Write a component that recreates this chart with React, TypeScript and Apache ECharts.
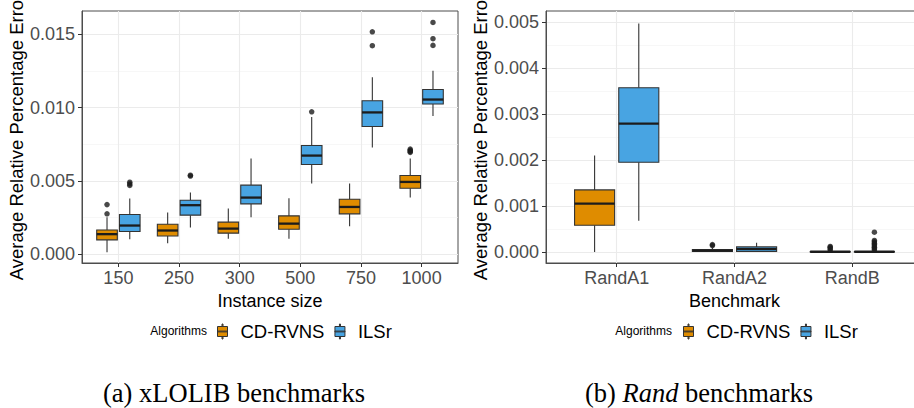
import React, { useEffect, useRef } from 'react';
import * as echarts from 'echarts';

// ---------- data ----------
const xlolibSizes = ['150', '250', '300', '500', '750', '1000'];
const randBenchmarks = ['RandA1', 'RandA2', 'RandB'];
const algorithms = ['CD-RVNS', 'ILSr'];

// [lower whisker, Q1, median, Q3, upper whisker]
const xlolibCDRVNS = [
  [0.00012, 0.00096, 0.00135, 0.00164, 0.00251],
  [0.00073, 0.00123, 0.0016, 0.00203, 0.00283],
  [0.00103, 0.00142, 0.00173, 0.00217, 0.0031],
  [0.00103, 0.00169, 0.00207, 0.0026, 0.00381],
  [0.00189, 0.00274, 0.00321, 0.00374, 0.00481],
  [0.00385, 0.00449, 0.00492, 0.00536, 0.00652],
];
const xlolibILSr = [
  [0.001, 0.00153, 0.00194, 0.00269, 0.00378],
  [0.0018, 0.00265, 0.00333, 0.00367, 0.00419],
  [0.00251, 0.00342, 0.00385, 0.0047, 0.00652],
  [0.00481, 0.00611, 0.00672, 0.00741, 0.00935],
  [0.00727, 0.00871, 0.00967, 0.01047, 0.01208],
  [0.00942, 0.01024, 0.01055, 0.01124, 0.01252],
];
// [category index, value]
const xlolibCDRVNSOutliers = [
  [0, 0.00337], [0, 0.00274],
  [5, 0.00716], [5, 0.00708], [5, 0.007], [5, 0.00694],
];
const xlolibILSrOutliers = [
  [0, 0.0049], [0, 0.00478], [0, 0.00468],
  [1, 0.00538], [1, 0.00532],
  [3, 0.00971],
  [4, 0.01518], [4, 0.01423],
  [5, 0.01582], [5, 0.01471], [5, 0.01425],
];

const randCDRVNS = [
  [0, 0.00058, 0.00105, 0.00135, 0.0021],
  [0, 0.00001, 0.00003, 0.00005, 0.00009],
  [0, 0, 0.000005, 0.00001, 0.00002],
];
const randILSr = [
  [0.00068, 0.00195, 0.00279, 0.00357, 0.00497],
  [0, 0.00001, 0.00006, 0.00011, 0.0002],
  [0, 0, 0.000005, 0.00001, 0.00002],
];
const randCDRVNSOutliers = [
  [1, 0.00016], [1, 0.00014],
  [2, 0.00012], [2, 0.0001], [2, 0.00007], [2, 0.00004],
];
const randILSrOutliers = [
  [2, 0.00043], [2, 0.00025], [2, 0.00022], [2, 0.00019], [2, 0.00016],
  [2, 0.00013], [2, 0.0001], [2, 0.00007], [2, 0.00004],
];

const xlolibMajorTicks = [0, 0.005, 0.01, 0.015];
const xlolibMinorTicks = [0.0025, 0.0075, 0.0125];
const randMajorTicks = [0, 0.001, 0.002, 0.003, 0.004, 0.005];
const randMinorTicks = [0.0005, 0.0015, 0.0025, 0.0035, 0.0045];

// ---------- styling ----------
const ORANGE = '#DF8C00';
const BLUE = '#48A4E2';
const FONT = '"Liberation Sans", Arial, sans-serif';
const SERIF = '"Liberation Serif", serif';
const DODGE = 0.1875;
const HALF_W = 0.17;

const boxIcon =
  'path://M4.5,0H5.5V2.5H4.5Z M0,2.5H10V12.5H0Z M0,7.1H10V7.9H0Z M4.5,12.5H5.5V15H4.5Z';

const renderBox = (params: any, api: any) => {
  const x = api.value(0);
  const lo = api.value(1);
  const q1 = api.value(2);
  const med = api.value(3);
  const q3 = api.value(4);
  const hi = api.value(5);
  const half = api.size([HALF_W, 0])[0];
  const pLo = api.coord([x, lo]);
  const pQ1 = api.coord([x, q1]);
  const pMed = api.coord([x, med]);
  const pQ3 = api.coord([x, q3]);
  const pHi = api.coord([x, hi]);
  const color = api.visual('color');
  return {
    type: 'group',
    children: [
      { type: 'line', shape: { x1: pHi[0], y1: pHi[1], x2: pQ3[0], y2: pQ3[1] }, style: { stroke: '#333', lineWidth: 1.1 } },
      { type: 'line', shape: { x1: pQ1[0], y1: pQ1[1], x2: pLo[0], y2: pLo[1] }, style: { stroke: '#333', lineWidth: 1.1 } },
      {
        type: 'rect',
        shape: { x: pQ3[0] - half, y: pQ3[1], width: 2 * half, height: Math.max(pQ1[1] - pQ3[1], 0.5) },
        style: { fill: color, stroke: '#333', lineWidth: 1.1 },
      },
      { type: 'line', shape: { x1: pMed[0] - half, y1: pMed[1], x2: pMed[0] + half, y2: pMed[1] }, style: { stroke: '#1c1c1c', lineWidth: 2.3 } },
    ],
  };
};

const boxSeries = (name: string, stats: number[][], offset: number, color: string, axisIdx: number, yIdx: number) => ({
  type: 'custom',
  name,
  xAxisIndex: axisIdx,
  yAxisIndex: yIdx,
  itemStyle: { color, borderColor: '#333', borderWidth: 1 },
  renderItem: renderBox,
  encode: { x: 0, y: [1, 2, 3, 4, 5] },
  data: stats.map((s, i) => [i + 1 + offset, ...s]),
  z: 3,
  silent: true,
});

const outlierSeries = (name: string, pts: number[][], offset: number, axisIdx: number, yIdx: number) => ({
  type: 'scatter',
  name,
  xAxisIndex: axisIdx,
  yAxisIndex: yIdx,
  symbol: 'circle',
  symbolSize: 5.5,
  itemStyle: { color: '#1c1c1c' },
  data: pts.map(([c, v]) => [c + 1 + offset, v]),
  z: 4,
  silent: true,
});

const xAxisFor = (gridIndex: number, cats: string[], name: string) => {
  const pos = cats.map((_, i) => i + 1);
  return {
    type: 'value',
    gridIndex,
    min: 0.4,
    max: cats.length + 0.6,
    name,
    nameLocation: 'middle',
    nameGap: 24,
    nameTextStyle: { fontSize: 18, color: '#000', fontFamily: FONT },
    axisLine: { show: true, onZero: false, lineStyle: { color: '#4d4d4d', width: 1 } },
    axisTick: { show: true, customValues: pos, length: 4, lineStyle: { color: '#333' } },
    axisLabel: {
      customValues: pos,
      formatter: (v: number) => cats[Math.round(v) - 1] ?? '',
      fontSize: 18,
      color: '#4D4D4D',
      fontFamily: FONT,
      margin: 6,
    },
    splitLine: { show: true, lineStyle: { color: '#EBEBEB', width: 1.1 } },
  };
};

const yAxisFor = (gridIndex: number, min: number, max: number, major: number[]) => ({
  type: 'value',
  gridIndex,
  min,
  max,
  name: 'Average Relative Percentage Error',
  nameLocation: 'middle',
  nameRotate: 90,
  nameGap: 54,
  nameTextStyle: { fontSize: 18.5, color: '#000', fontFamily: FONT },
  axisLine: { show: true, onZero: false, lineStyle: { color: '#4d4d4d', width: 1 } },
  axisTick: { show: true, customValues: major, length: 4, lineStyle: { color: '#333' } },
  axisLabel: {
    customValues: major,
    formatter: (v: number) => v.toFixed(3),
    fontSize: 18,
    color: '#4D4D4D',
    fontFamily: FONT,
    margin: 7,
  },
  splitLine: { show: true, lineStyle: { color: '#EBEBEB', width: 1.1 } },
  z: 1,
});

const yMinorFor = (gridIndex: number, min: number, max: number, minor: number[]) => ({
  type: 'value',
  gridIndex,
  min,
  max,
  axisLine: { show: false, onZero: false },
  axisTick: { show: false, customValues: minor },
  axisLabel: { show: false, customValues: minor },
  splitLine: { show: true, lineStyle: { color: '#F2F2F2', width: 0.6 } },
  z: 0,
});

const legendFor = (left: number) => ({
  data: algorithms,
  left,
  top: 317,
  orient: 'horizontal',
  icon: boxIcon,
  itemWidth: 10,
  itemHeight: 15,
  itemGap: 10,
  itemStyle: { borderColor: '#333', borderWidth: 1 },
  textStyle: { fontSize: 18.5, color: '#000', fontFamily: FONT, padding: [0, 0, 0, 8] },
  selectedMode: false,
});

export default function App() {
  const ref = useRef<HTMLDivElement>(null);
  useEffect(() => {
    if (!ref.current) return;
    const chart = echarts.init(ref.current, undefined, { renderer: 'svg' });
    const xMin = -0.00062, xMax = 0.0166;
    const rMin = -0.00024, rMax = 0.00524;
    chart.setOption({
      animation: false,
      backgroundColor: '#fff',
      textStyle: { fontFamily: FONT },
      grid: [
        { left: 82, top: 11, right: 456, bottom: 145, show: true, borderColor: '#4d4d4d', borderWidth: 1, backgroundColor: 'transparent', containLabel: false, outerBoundsMode: 'none' },
        { left: 546, top: 11, right: -9, bottom: 145, show: true, borderColor: '#4d4d4d', borderWidth: 1, backgroundColor: 'transparent', containLabel: false, outerBoundsMode: 'none' },
      ],
      xAxis: [
        xAxisFor(0, xlolibSizes, 'Instance size'),
        xAxisFor(1, randBenchmarks, 'Benchmark'),
      ],
      yAxis: [
        yAxisFor(0, xMin, xMax, xlolibMajorTicks),
        yMinorFor(0, xMin, xMax, xlolibMinorTicks),
        yAxisFor(1, rMin, rMax, randMajorTicks),
        yMinorFor(1, rMin, rMax, randMinorTicks),
      ],
      legend: [legendFor(212), legendFor(678)],
      graphic: [
        { type: 'text', x: 207, y: 331, style: { text: 'Algorithms', fontSize: 12, fontFamily: FONT, fill: '#000', align: 'right', verticalAlign: 'middle' } },
        { type: 'text', x: 672, y: 331, style: { text: 'Algorithms', fontSize: 12, fontFamily: FONT, fill: '#000', align: 'right', verticalAlign: 'middle' } },
        {
          type: 'text', x: 234, y: 393,
          style: { text: '(a) xLOLIB benchmarks', fontSize: 26.5, lineHeight: 24, fontFamily: SERIF, fill: '#000', align: 'center', verticalAlign: 'middle' },
        },
        {
          type: 'text', x: 699, y: 393,
          style: {
            text: '(b) {it|Rand} benchmarks',
            fontSize: 26.5, lineHeight: 24, fontFamily: SERIF, fill: '#000', align: 'center', verticalAlign: 'middle',
            rich: { it: { fontStyle: 'italic', fontSize: 26.5, lineHeight: 24, fontFamily: SERIF, fill: '#000' } },
          },
        },
      ],
      series: [
        boxSeries(algorithms[0], xlolibCDRVNS, -DODGE, ORANGE, 0, 0),
        boxSeries(algorithms[1], xlolibILSr, DODGE, BLUE, 0, 0),
        outlierSeries('CD-RVNS outliers', xlolibCDRVNSOutliers, -DODGE, 0, 0),
        outlierSeries('ILSr outliers', xlolibILSrOutliers, DODGE, 0, 0),
        boxSeries(algorithms[0], randCDRVNS, -DODGE, ORANGE, 1, 2),
        boxSeries(algorithms[1], randILSr, DODGE, BLUE, 1, 2),
        outlierSeries('CD-RVNS outliers', randCDRVNSOutliers, -DODGE, 1, 2),
        outlierSeries('ILSr outliers', randILSrOutliers, DODGE, 1, 2),
      ],
    });
    return () => chart.dispose();
  }, []);
  return (
    <div
      ref={ref}
      style={{ position: 'absolute', left: 0, top: 0, width: 914, height: 408, background: '#fff' }}
    />
  );
}
